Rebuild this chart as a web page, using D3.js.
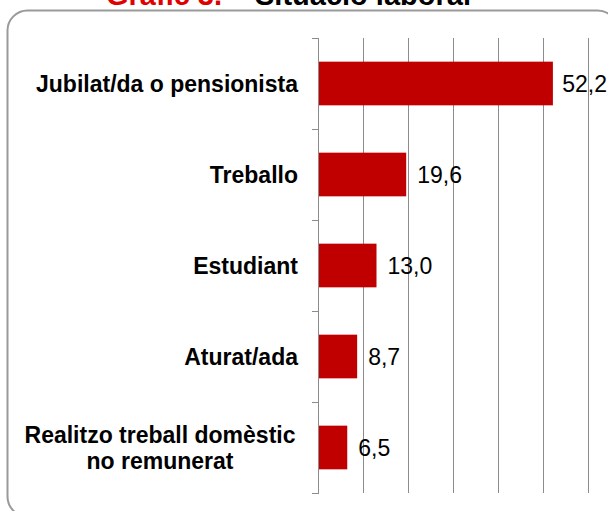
<!DOCTYPE html>
<html>
<head>
<meta charset="utf-8">
<script src="https://cdn.jsdelivr.net/npm/d3@7"></script>
<style>
  body { margin: 0; background: #fff; }
  text { font-family: "Liberation Sans", Arial, sans-serif; }
</style>
</head>
<body>
<svg id="chart" width="608" height="511"></svg>
<script>
// dades del gràfic
const categories = [
    ["Jubilat/da o pensionista"],
    ["Treballo"],
    ["Estudiant"],
    ["Aturat/ada"],
    ["Realitzo treball domèstic", "no remunerat"]
];
const values = [52.2, 19.6, 13.0, 8.7, 6.5];
const xTicks = [0, 10, 20, 30, 40, 50, 60];

const svg = d3.select("#chart");

const locale = d3.formatLocale({decimal: ",", thousands: ".", grouping: [3], currency: ["", "€"]});
const fmt = locale.format(".1f");

// marc arrodonit
svg.append("rect")
    .attr("x", 7.5).attr("y", 10.5)
    .attr("width", 610).attr("height", 506)
    .attr("rx", 20).attr("ry", 20)
    .attr("fill", "none")
    .attr("stroke", "#9a9a9a")
    .attr("stroke-width", 2);

// títol (tallat a dalt, com a la imatge original)
const title = svg.append("text")
    .attr("x", 106).attr("y", 5)
    .attr("font-size", 29).attr("font-weight", "bold");
title.append("tspan").attr("fill", "#e00000").text("Gràfic 3.");
title.append("tspan").attr("fill", "#000").attr("x", 255).text("Situació laboral");

const plotLeft = 318, plotRight = 588, plotTop = 38, plotBottom = 493;

let xScale = d3.scaleLinear().domain([0, 60]).range([plotLeft, plotRight]);
let yScale = d3.scaleBand()
    .domain(d3.range(values.length))
    .range([plotTop, plotBottom])
    .paddingInner(0.52)
    .paddingOuter(0.26);

// línies de graella
svg.selectAll("line.grid")
    .data(xTicks.slice(1))
    .enter()
    .append("line")
    .attr("class", "grid")
    .attr("x1", d => xScale(d) + 0.5).attr("x2", d => xScale(d) + 0.5)
    .attr("y1", plotTop).attr("y2", plotBottom)
    .attr("stroke", "#8c8c8c").attr("stroke-width", 1);

// eix vertical amb marques entre categories
const step = (plotBottom - plotTop) / values.length;
svg.append("line")
    .attr("x1", plotLeft + 0.5).attr("x2", plotLeft + 0.5)
    .attr("y1", plotTop).attr("y2", plotBottom)
    .attr("stroke", "#8c8c8c");
svg.selectAll("line.tick")
    .data(d3.range(values.length + 1))
    .enter()
    .append("line")
    .attr("class", "tick")
    .attr("x1", plotLeft - 6).attr("x2", plotLeft + 1)
    .attr("y1", i => plotTop + i * step + 0.5).attr("y2", i => plotTop + i * step + 0.5)
    .attr("stroke", "#8c8c8c");

// barres
svg.selectAll("rect.bar")
    .data(values)
    .enter()
    .append("rect")
    .attr("class", "bar")
    .attr("x", plotLeft + 1)
    .attr("y", (d, i) => yScale(i))
    .attr("width", d => xScale(d) - plotLeft - 1)
    .attr("height", yScale.bandwidth())
    .attr("fill", "#c00000");

// valors
svg.selectAll("text.value")
    .data(values)
    .enter()
    .append("text")
    .attr("class", "value")
    .attr("y", (d, i) => yScale(i) + yScale.bandwidth() / 2 + 8)
    .attr("font-size", 23)
    .attr("fill", "#000")
    .text(d => fmt(d))
    .attr("x", function(d) {
        const w = this.getComputedTextLength();
        return Math.min(xScale(d) + 11, 607 - w);
    });

// etiquetes de categoria
const lineH = 26;
svg.selectAll("text.cat")
    .data(categories)
    .enter()
    .append("text")
    .attr("class", "cat")
    .attr("font-size", 23)
    .attr("font-weight", "bold")
    .attr("fill", "#000")
    .attr("text-anchor", d => d.length > 1 ? "middle" : "end")
    .each(function(lines, i) {
        const cy = yScale(i) + yScale.bandwidth() / 2;
        const el = d3.select(this);
        if (lines.length === 1) {
            el.attr("x", 298).attr("y", cy + 8).text(lines[0]);
        } else {
            lines.forEach((l, k) => {
                el.append("tspan")
                    .attr("x", 160)
                    .attr("y", cy + 8 + (k - (lines.length - 1) / 2) * lineH)
                    .text(l);
            });
        }
    });
</script>
</body>
</html>
